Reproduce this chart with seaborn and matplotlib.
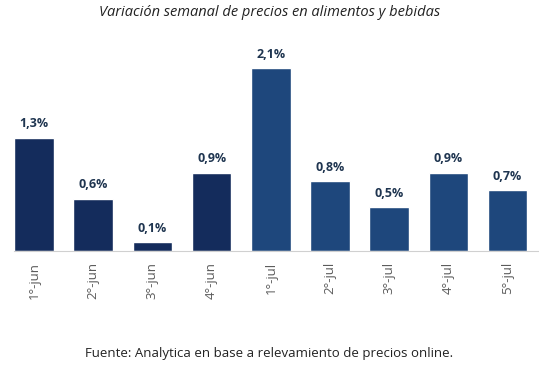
import matplotlib
matplotlib.use("Agg")
import matplotlib.pyplot as plt
import seaborn as sns
import pandas as pd

semanas = ["1°-jun", "2°-jun", "3°-jun", "4°-jun", "1°-jul", "2°-jul", "3°-jul", "4°-jul", "5°-jul"]
variacion = [1.3, 0.6, 0.1, 0.9, 2.1, 0.8, 0.5, 0.9, 0.7]
mes = ["jun", "jun", "jun", "jun", "jul", "jul", "jul", "jul", "jul"]
colores = {"jun": "#142c5c", "jul": "#1e477c"}

sns.set_theme(style="white")
plt.rcParams["font.family"] = ["Open Sans", "DejaVu Sans"]

df = pd.DataFrame({"semana": semanas, "var": variacion, "mes": mes})

fig = plt.figure(figsize=(5.39, 3.66), dpi=100)
ax = fig.add_axes([14/539, (366-251)/366, 1 - 14/539, (251-30)/366])
sns.barplot(data=df, x="semana", y="var", hue="mes", palette=colores,
            dodge=False, width=0.67, legend=False, ax=ax, saturation=1)

ax.set_xlim(-0.338, 8.53)
ax.set_ylim(0, (251-30)/87.1)
for s in ["top", "right", "left"]:
    ax.spines[s].set_visible(False)
ax.spines["bottom"].set_color("#d0d0d0")
ax.spines["bottom"].set_linewidth(0.8)
ax.set_yticks([])
ax.set_xlabel("")
ax.set_ylabel("")
ax.tick_params(axis="x", length=0, pad=8, labelsize=9.5, labelcolor="#5a5a5a")
for lab in ax.get_xticklabels():
    lab.set_rotation(90)

for i, v in enumerate(variacion):
    ax.text(i, v + 0.085, f"{v:.1f}%".replace(".", ","), ha="center", va="bottom",
            fontsize=9, fontweight="bold", color="#1f3550")

fig.text(0.5, 1 - 12/366, "Variación semanal de precios en alimentos y bebidas",
         ha="center", va="center", fontsize=10.5, style="italic", color="#222222")
fig.text(0.5, 1 - 353/366, "Fuente: Analytica en base a relevamiento de precios online.",
         ha="center", va="center", fontsize=9.5, color="#222222")

fig.savefig("out.png", dpi=100)
